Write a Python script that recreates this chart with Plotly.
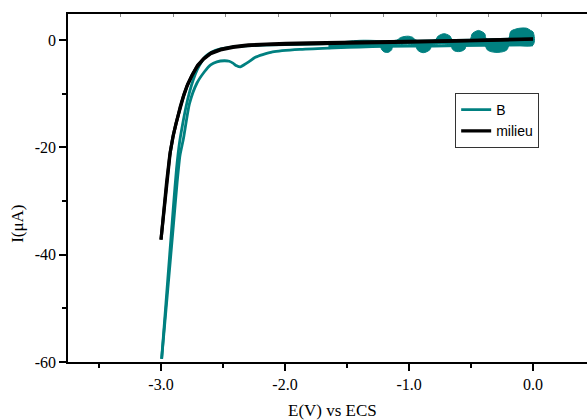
import plotly.graph_objects as go

# ---------------- data ----------------
# "milieu" : forward scan 0 -> -3.0 V, then return -3.0 -> 0 V
E_milieu_fwd = [0.0, -0.5, -1.0, -1.5, -1.8, -2.0, -2.15, -2.30, -2.42, -2.52, -2.60, -2.66,
                -2.71, -2.75, -2.79, -2.82, -2.85, -2.88, -2.905, -2.93, -2.955, -2.98, -3.0]
I_milieu_fwd = [0.15, -0.15, -0.4, -0.55, -0.65, -0.75, -0.85, -1.05, -1.35, -1.85, -2.55, -3.6,
                -5.0, -6.6, -8.6, -10.6, -13.0, -15.6, -18.2, -21.5, -26.5, -32.5, -37.2]
E_milieu_rev = [-3.0, -2.975, -2.95, -2.925, -2.90, -2.875, -2.845, -2.815, -2.785, -2.745, -2.705,
                -2.655, -2.595, -2.515, -2.415, -2.295, -2.145, -1.995, -1.8, -1.5, -1.0, -0.5, 0.0]
I_milieu_rev = [-37.2, -31.5, -25.5, -20.8, -17.6, -15.0, -12.4, -10.1, -8.2, -6.3, -4.7,
                -3.4, -2.35, -1.65, -1.2, -0.9, -0.72, -0.62, -0.52, -0.42, -0.28, -0.05, 0.25]

# "B" : forward scan (with the wave near -2.36 V) and return scan
E_B_fwd = [0.0, -0.4, -0.8, -1.2, -1.4, -1.6, -1.88, -2.10, -2.18, -2.24, -2.29, -2.33, -2.36,
           -2.39, -2.42, -2.45, -2.49, -2.55, -2.60, -2.65, -2.71, -2.77, -2.82, -2.847, -2.87,
           -2.90, -2.93, -2.96, -2.995]
I_B_fwd = [-0.9, -1.0, -1.1, -1.15, -1.3, -1.45, -1.75, -2.2, -2.7, -3.2, -4.0, -4.6, -5.0,
           -4.8, -4.3, -3.95, -3.85, -4.05, -4.6, -5.9, -8.0, -11.8, -18.5, -21.5, -26.5,
           -34.5, -42.4, -50.3, -59.4]
E_B_rev = [-2.995, -2.96, -2.93, -2.90, -2.875, -2.85, -2.825, -2.80, -2.77, -2.74, -2.71, -2.68,
           -2.64, -2.59, -2.52, -2.43, -2.32, -2.18, -2.0, -1.8, -1.6, -1.4, -1.0, -0.5, 0.0]
I_B_rev = [-59.4, -49.0, -40.0, -31.0, -24.0, -19.0, -15.6, -12.6, -9.7, -7.4, -5.6, -4.3,
           -3.0, -2.2, -1.65, -1.3, -1.08, -0.95, -0.85, -0.75, -0.62, -0.5, -0.25, 0.0, 0.3]

# "B" : envelope of the noisy region (-1.65 V .. 0 V)
E_B_noise_up = [-1.65, -1.40, -1.10, -1.07, -1.04, -1.005, -0.97, -0.945,
                -0.79, -0.765, -0.735, -0.72, -0.70, -0.67, -0.65,
                -0.51, -0.49, -0.46, -0.44, -0.42, -0.39, -0.375,
                -0.20, -0.18, -0.14, -0.09, -0.05, -0.02, 0.0]
I_B_noise_up = [-0.6, -0.05, 0.0, 0.45, 0.65, 0.72, 0.5, 0.0,
                0.05, 0.75, 1.1, 1.18, 1.1, 0.75, 0.05,
                0.1, 1.2, 1.65, 1.8, 1.65, 1.2, 0.2,
                0.25, 1.6, 2.05, 2.25, 2.2, 1.8, 1.5]
E_B_noise_lo = [0.0, -0.19, -0.21, -0.24, -0.29, -0.34, -0.37, -0.39,
                -0.535, -0.55, -0.575, -0.60, -0.63, -0.65, -0.665,
                -0.815, -0.83, -0.86, -0.885, -0.91, -0.935, -0.95,
                -1.13, -1.14, -1.16, -1.18, -1.20, -1.22, -1.235,
                -1.40, -1.65]
I_B_noise_lo = [-0.9, -1.0, -1.8, -2.15, -2.3, -2.15, -1.8, -1.05,
                -1.0, -1.7, -2.05, -2.15, -2.05, -1.7, -1.0,
                -1.0, -1.75, -2.2, -2.35, -2.2, -1.75, -1.0,
                -1.15, -1.8, -2.2, -2.3, -2.2, -1.8, -1.15,
                -1.3, -1.6]

x_tickvals = [-3.0, -2.0, -1.0, 0.0]
x_ticktext = ["-3.0", "-2.0", "-1.0", "0.0"]
x_minor = [-3.5, -2.5, -1.5, -0.5]
y_tickvals = [0, -20, -40, -60]
y_ticktext = ["0", "-20", "-40", "-60"]
y_minor = [-10, -30, -50]

TEAL = "#008080"
BLACK = "#000000"

fig = go.Figure()

# B traces
fig.add_trace(go.Scatter(x=E_B_noise_up + E_B_noise_lo, y=I_B_noise_up + I_B_noise_lo,
                         mode="lines", fill="toself", fillcolor=TEAL,
                         line=dict(color=TEAL, width=1, shape="spline"), legendgroup="B",
                         showlegend=False, hoverinfo="skip"))
fig.add_trace(go.Scatter(x=E_B_fwd, y=I_B_fwd, mode="lines", name="B",
                         line=dict(color=TEAL, width=2.8, shape="spline", smoothing=0.6),
                         legendgroup="B"))
fig.add_trace(go.Scatter(x=E_B_rev, y=I_B_rev, mode="lines", name="B",
                         line=dict(color=TEAL, width=2.8, shape="spline", smoothing=0.6),
                         legendgroup="B", showlegend=False))

# milieu traces
fig.add_trace(go.Scatter(x=E_milieu_fwd, y=I_milieu_fwd, mode="lines", name="milieu",
                         line=dict(color=BLACK, width=3.2), legendgroup="milieu"))
fig.add_trace(go.Scatter(x=E_milieu_rev, y=I_milieu_rev, mode="lines", name="milieu",
                         line=dict(color=BLACK, width=3.2), legendgroup="milieu",
                         showlegend=False))

# dummy trace for top axis
fig.add_trace(go.Scatter(x=[None], y=[None], xaxis="x2", yaxis="y",
                         showlegend=False, hoverinfo="skip"))

serif = "Liberation Serif"
tickfont = dict(family=serif, size=16, color="black")

fig.update_layout(
    width=587, height=420,
    margin=dict(l=68, r=0, t=14, b=58),
    paper_bgcolor="white", plot_bgcolor="white",
    showlegend=True,
    legend=dict(x=0.746, y=0.773, xanchor="left", yanchor="top",
                bgcolor="white", bordercolor="#333333", borderwidth=1,
                font=dict(family="Liberation Sans", size=14, color="black"),
                tracegroupgap=0, itemwidth=30),
    xaxis=dict(range=[-3.75, 0.435], showline=True, linecolor="black", linewidth=1.5,
               ticks="outside", ticklen=7, tickwidth=1.5, tickcolor="black",
               tickmode="array", tickvals=x_tickvals, ticktext=x_ticktext,
               minor=dict(tickmode="array", tickvals=x_minor, ticks="outside",
                          ticklen=4, tickwidth=1.5, tickcolor="black"),
               showgrid=False, zeroline=False, tickfont=tickfont),
    yaxis=dict(range=[-60, 4.86], showline=True, linecolor="black", linewidth=1.5,
               ticks="outside", ticklen=7, tickwidth=1.5, tickcolor="black",
               tickmode="array", tickvals=y_tickvals, ticktext=y_ticktext,
               minor=dict(tickmode="array", tickvals=y_minor, ticks="outside",
                          ticklen=4, tickwidth=1.5, tickcolor="black"),
               showgrid=False, zeroline=False, tickfont=tickfont),
    xaxis2=dict(overlaying="x", side="top", anchor="y", range=[0, 9.87],
                tickmode="linear", tick0=0, dtick=1, ticks="inside", ticklen=3,
                tickwidth=1, tickcolor="#888888", showticklabels=False,
                showline=True, linecolor="black", linewidth=1.5,
                showgrid=False, zeroline=False),
    annotations=[
        dict(text="I(μA)", xref="paper", yref="paper", x=-0.0963, y=0.397,
             xanchor="center", yanchor="middle", textangle=-90, showarrow=False,
             font=dict(family=serif, size=17, color="black")),
        dict(text="E(V) vs ECS", xref="paper", yref="paper", x=0.509, y=-0.138,
             xanchor="center", yanchor="middle", showarrow=False,
             font=dict(family=serif, size=17, color="black")),
    ],
)

fig.write_html("out.html",
               config={"displayModeBar": False},
               post_script="document.body.style.margin='0';document.body.style.overflow='hidden';")
